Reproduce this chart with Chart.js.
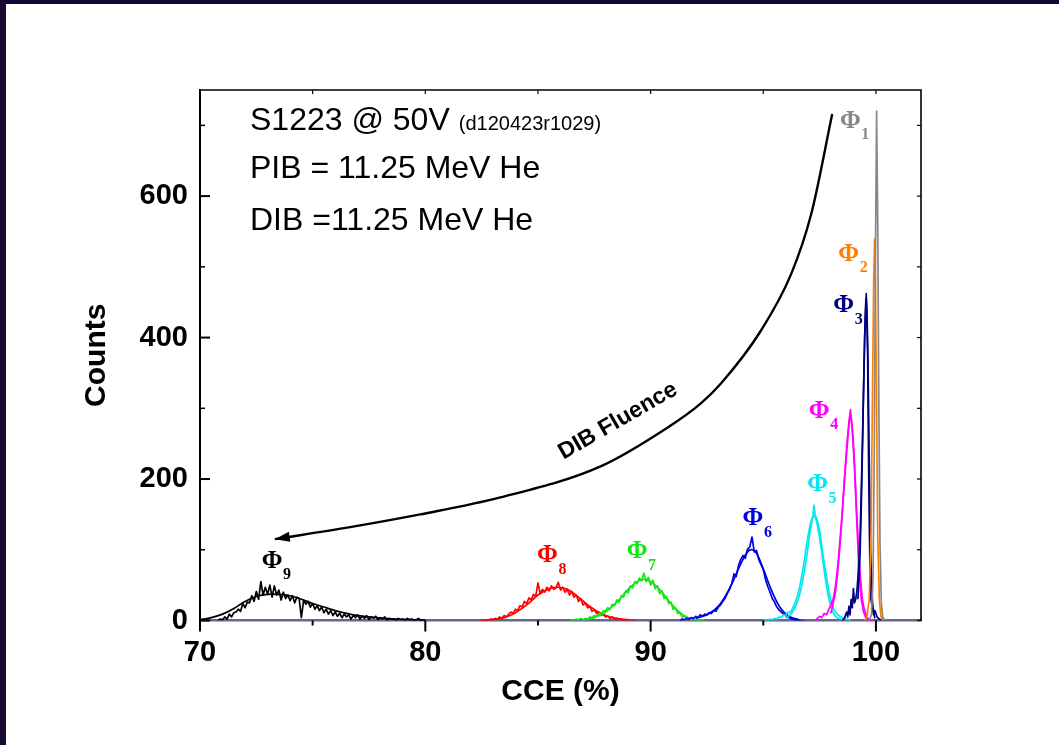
<!DOCTYPE html>
<html>
<head>
<meta charset="utf-8">
<script src="https://cdn.jsdelivr.net/npm/chart.js@4.4.1/dist/chart.umd.min.js"></script>
<style>
  html, body { margin: 0; padding: 0; background: #fff; }
  #wrap { position: relative; width: 1059px; height: 745px; overflow: hidden; }
  #edgeTop { position: absolute; left: 0; top: 0; width: 1059px; height: 4px; background: #0f0836; }
  #edgeLeft { position: absolute; left: 0; top: 0; width: 6px; height: 745px; background: #170a2e; }
</style>
</head>
<body>
<div id="wrap">
  <canvas id="cceChart" width="1059" height="745"></canvas>
  <div id="edgeTop"></div>
  <div id="edgeLeft"></div>
</div>
<script>
// axes
const xTickLabels = [70, 80, 90, 100];
const xMinorTicks = [75, 85, 95];
const yTickLabels = [0, 200, 400, 600];
const yMinorTicks = [100, 300, 500, 700];

// Phi 9 (black)
const phi9Cce = [70.8,70.9,71.0,71.1,71.2,71.3,71.4,71.5,71.6,71.7,71.8,71.9,72.0,72.1,72.2,72.3,72.4,72.5,72.6,72.7,
  72.8,72.9,73.0,73.1,73.2,73.3,73.4,73.5,73.6,73.7,73.8,73.9,74.0,74.1,74.2,74.3,74.4,74.5,74.6,74.7,
  74.8,74.9,75.0,75.1,75.2,75.3,75.4,75.5,75.6,75.7,75.8,75.9,76.0,76.1,76.2,76.3,76.4,76.5,76.6,76.7,
  76.8,76.9,77.0,77.1,77.2,77.3,77.4,77.5,77.6,77.7,77.8,77.9,78.0,78.1,78.2,78.3,78.4,78.5,78.6,78.7,
  78.8,78.9,79.0,79.1,79.2,79.3,79.4,79.5,79.6,79.7,79.8,80.0];
const phi9Counts = [0,2,1,5,2,9,5,11,12,16,13,24,18,26,25,35,27,41,30,55,
  36,47,37,50,33,49,36,43,29,40,31,36,28,35,25,33,31,4,29,23,
  27,19,24,16,21,14,19,11,16,9,14,7,12,6,10,4,9,5,8,2,
  7,4,8,2,6,3,7,1,5,3,6,1,4,2,5,0,3,2,2,0,
  3,1,2,0,3,1,2,0,1,3,0,0];
const phi9FitCce = [70.0,70.5,71.0,71.5,72.0,72.5,73.0,73.5,74.0,74.5,75.0,75.5,76.0,76.5,77.0,77.5,78.0,78.5,79.0,79.5,80.0];
const phi9Fit = [1,4,9,17,27,34,37,37,35,30,24,19,14,10,7,5,3.5,2.5,1.5,1,0.5];

// Phi 8 (red)
const phi8Cce = [82.6,82.7,82.8,82.9,83.0,83.1,83.2,83.3,83.4,83.5,83.6,83.7,83.8,83.9,84.0,84.1,84.2,84.3,84.4,84.5,
  84.6,84.7,84.8,84.9,85.0,85.1,85.2,85.3,85.4,85.5,85.6,85.7,85.8,85.9,86.0,86.1,86.2,86.3,86.4,86.5,
  86.6,86.7,86.8,86.9,87.0,87.1,87.2,87.3,87.4,87.5,87.6,87.7,87.8,87.9,88.0,88.1,88.2,88.3,88.4,88.5,
  88.6,88.7,88.8,88.9,89.0];
const phi8Counts = [0,1,0,2,1,3,2,5,3,7,5,9,12,10,16,14,21,19,27,24,
  32,29,37,34,53,38,44,40,47,42,49,44,46,54,43,47,40,44,36,41,
  33,36,27,31,22,25,18,20,13,15,10,12,7,9,5,6,3,5,2,3,
  1,2,0,1,0];
const phi8FitCce = [82.4,83.0,83.5,84.0,84.5,85.0,85.5,85.9,86.3,86.8,87.3,87.8,88.3,88.8,89.3];
const phi8Fit = [0,1.5,4,11,22,36,45,47,44,33,20,10,4,1.5,0.3];

// Phi 7 (green)
const phi7Cce = [86.4,86.5,86.6,86.7,86.8,86.9,87.0,87.1,87.2,87.3,87.4,87.5,87.6,87.7,87.8,87.9,88.0,88.1,88.2,88.3,
  88.4,88.5,88.6,88.7,88.8,88.9,89.0,89.1,89.2,89.3,89.4,89.5,89.6,89.7,89.8,89.9,90.0,90.1,90.2,90.3,
  90.4,90.5,90.6,90.7,90.8,90.9,91.0,91.1,91.2,91.3,91.4,91.5,91.6,91.7,91.8,91.9,92.0,92.2];
const phi7Counts = [0,1,0,2,1,3,1,3,2,5,4,7,6,10,9,14,13,18,16,23,
  21,29,26,35,33,42,39,49,46,55,52,60,56,67,55,61,50,57,45,49,
  38,42,31,34,24,26,16,18,10,11,5,6,2,3,1,2,0,0];
const phi7FitCce = [87.0,87.5,88.0,88.5,89.0,89.4,89.7,90.0,90.4,90.8,91.2,91.6,92.0,92.4];
const phi7Fit = [1,4,12,26,44,55,58,55,44,28,14,5,1.5,0.3];

// Phi 6 (blue)
const phi6Cce = [91.3,91.4,91.5,91.6,91.7,91.8,91.9,92.0,92.1,92.2,92.3,92.4,92.5,92.6,92.7,92.8,92.9,93.0,93.1,93.2,
  93.3,93.4,93.5,93.6,93.7,93.8,93.9,94.0,94.1,94.2,94.3,94.4,94.5,94.6,94.7,94.8,94.9,95.0,95.1,95.2,
  95.3,95.4,95.5,95.6,95.7,95.8,95.9,96.0,96.1,96.2,96.3,96.4,96.5,96.6,96.8];
const phi6Counts = [0,2,1,3,2,4,3,6,4,8,6,9,8,11,10,14,13,19,22,27,
  31,38,44,52,66,62,78,86,92,88,101,104,118,97,99,86,79,72,58,48,
  40,31,26,19,15,12,9,7,5,3,2,1,1,0,0];
const phi6FitCce = [92.0,92.5,93.0,93.5,94.0,94.3,94.5,94.7,95.0,95.4,95.8,96.2,96.6];
const phi6Fit = [3,8,20,45,80,97,100,95,73,40,16,5,1];

// Phi 5 (cyan)
const phi5Cce = [95.0,95.1,95.2,95.3,95.4,95.5,95.6,95.7,95.8,95.9,96.0,96.1,96.2,96.3,96.4,96.5,96.6,96.7,96.8,96.9,
  97.0,97.1,97.2,97.25,97.3,97.4,97.5,97.6,97.7,97.8,97.9,98.0,98.1,98.2,98.3,98.4,98.5,98.6,98.7,98.8,98.9];
const phi5Counts = [0,1,0,2,1,3,2,5,4,8,7,12,11,17,24,33,45,62,80,103,
  122,138,148,163,150,141,128,104,82,63,44,29,19,12,8,6,4,3,2,1,0];
const phi5FitCce = [96.0,96.3,96.6,96.9,97.1,97.25,97.4,97.6,97.8,98.0,98.2,98.5];
const phi5Fit = [3,12,35,85,130,148,135,95,50,20,6,1];

// Phi 4 (magenta)
const phi4Cce = [97.3,97.4,97.5,97.6,97.7,97.8,97.9,98.0,98.1,98.2,98.3,98.4,98.5,98.6,98.7,98.8,98.87,98.95,99.05,99.15,99.25,99.35,99.45,99.55,99.7,99.9];
const phi4Counts = [0,3,6,4,10,8,15,22,30,48,75,112,150,200,245,280,298,270,215,140,70,30,12,4,1,0];
const phi4FitCce = [98.0,98.2,98.4,98.6,98.8,98.87,99.0,99.2,99.4,99.6,99.8];
const phi4Fit = [10,40,105,195,275,290,250,120,30,5,0];

// Phi 3 (navy)
const phi3Cce = [98.5,98.6,98.7,98.75,98.8,98.85,98.9,98.95,99.0,99.05,99.1,99.15,99.2,99.3,99.4,99.5,99.57,99.63,99.68,99.73,99.78,99.85,99.9,99.95,100.0,100.05,100.15,100.25];
const phi3Counts = [0,3,12,5,20,8,30,18,45,25,30,40,60,120,250,400,462,380,200,80,30,15,8,14,10,5,2,0];
const phi3FitCce = [99.2,99.3,99.4,99.5,99.57,99.65,99.75,99.85,99.95];
const phi3Fit = [30,100,240,400,455,360,120,25,3];

// Phi 2 (orange)
const phi2Cce = [99.5,99.6,99.7,99.78,99.85,99.9,99.94,99.98,100.03,100.08,100.15,100.22,100.3];
const phi2Counts = [0,5,30,120,330,480,540,470,300,120,30,6,0];

// Phi 1 (grey)
const phi1Cce = [99.7,99.8,99.87,99.93,99.98,100.03,100.08,100.13,100.18,100.24,100.3,100.4];
const phi1Counts = [0,8,60,250,520,720,560,300,110,25,5,0];

// DIB fluence arrow
const arrowCce = [73.32, 76.66, 79.77, 83.33, 87.78, 90.76, 92.23, 93.12, 94.9, 96.24, 97.13, 98.06];
const arrowCounts = [115, 132, 150, 174, 218, 273, 307, 335, 410, 490, 575, 716];

// peak labels
const phiSubs = ['1', '2', '3', '4', '5', '6', '7', '8', '9'];
const phiColors = ['#888888', '#ff8000', '#000080', '#ff00ff', '#00e8f0', '#0000e6', '#14e614', '#ff0000', '#000000'];
const phiLabelCce = [98.86, 98.79, 98.57, 97.48, 97.41, 94.54, 89.4, 85.42, 73.2];
const phiLabelCounts = [706, 518, 445, 296, 192, 144, 97, 92, 84];

const infoLines = ['S1223 @ 50V', 'PIB = 11.25 MeV He', 'DIB =11.25 MeV He'];
const infoRun = '(d120423r1029)';

const SANS = '"Liberation Sans", Arial, sans-serif';
const SERIF = '"Liberation Serif", "Times New Roman", serif';

function pts(xs, ys) {
    return xs.map((x, i) => ({ x: x, y: ys[i] }));
}

function spectrum(xs, ys, color, order, smooth) {
    return { data: pts(xs, ys), borderColor: color, borderWidth: 1.7, pointRadius: 0,
        tension: smooth ? 0.4 : 0, order: order };
}

const datasets = [
    { data: pts(arrowCce, arrowCounts), borderColor: '#000', borderWidth: 2.4, pointRadius: 0,
      cubicInterpolationMode: 'monotone', order: 0 },
    spectrum(phi1Cce, phi1Counts, phiColors[0], 1),
    spectrum(phi2Cce, phi2Counts, phiColors[1], 2),
    spectrum(phi3Cce, phi3Counts, phiColors[2], 3),
    spectrum(phi3FitCce, phi3Fit, phiColors[2], 3, true),
    spectrum(phi4Cce, phi4Counts, phiColors[3], 4),
    spectrum(phi4FitCce, phi4Fit, phiColors[3], 4, true),
    spectrum(phi5Cce, phi5Counts, phiColors[4], 5),
    spectrum(phi5FitCce, phi5Fit, phiColors[4], 5, true),
    spectrum(phi6Cce, phi6Counts, phiColors[5], 6),
    spectrum(phi6FitCce, phi6Fit, phiColors[5], 6, true),
    spectrum(phi7Cce, phi7Counts, phiColors[6], 7),
    spectrum(phi7FitCce, phi7Fit, phiColors[6], 7, true),
    spectrum(phi8Cce, phi8Counts, phiColors[7], 8),
    spectrum(phi8FitCce, phi8Fit, phiColors[7], 8, true),
    spectrum(phi9Cce, phi9Counts, phiColors[8], 9),
    spectrum(phi9FitCce, phi9Fit, phiColors[8], 9, true)
];

// frame, ticks, arrow head and text labels
const decorPlugin = {
    id: 'decor',
    afterDatasetsDraw(chart) {
        const { ctx, chartArea: a, scales: { x, y } } = chart;
        ctx.save();

        ctx.strokeStyle = '#000';
        ctx.lineWidth = 1.6;
        ctx.beginPath();
        ctx.moveTo(a.left, a.top);
        ctx.lineTo(a.right, a.top);
        ctx.lineTo(a.right, a.bottom);
        ctx.stroke();

        const tick = (x1, y1, x2, y2, w) => {
            ctx.lineWidth = w;
            ctx.beginPath(); ctx.moveTo(x1, y1); ctx.lineTo(x2, y2); ctx.stroke();
        };
        xTickLabels.forEach(v => { const px = x.getPixelForValue(v); tick(px, a.bottom, px, a.bottom + 11, 2); });
        xMinorTicks.forEach(v => { const px = x.getPixelForValue(v); tick(px, a.bottom, px, a.bottom + 5, 2); });
        xTickLabels.concat(xMinorTicks).forEach(v => { const px = x.getPixelForValue(v); tick(px, a.top, px, a.top + 4, 1.2); });
        yTickLabels.forEach(v => { const py = y.getPixelForValue(v); tick(a.left, py, a.left + 10, py, 2); });
        yMinorTicks.forEach(v => { const py = y.getPixelForValue(v); tick(a.left, py, a.left + 5, py, 1.5); });
        yTickLabels.concat(yMinorTicks).forEach(v => { const py = y.getPixelForValue(v); tick(a.right, py, a.right - 4, py, 1.2); });

        // arrow head at the low-CCE end of the fluence curve
        const p0 = { x: x.getPixelForValue(arrowCce[0]), y: y.getPixelForValue(arrowCounts[0]) };
        const p1 = { x: x.getPixelForValue(arrowCce[1]), y: y.getPixelForValue(arrowCounts[1]) };
        const ang = Math.atan2(p0.y - p1.y, p0.x - p1.x);
        const len = 15, half = 5;
        ctx.fillStyle = '#000';
        ctx.beginPath();
        ctx.moveTo(p0.x, p0.y);
        ctx.lineTo(p0.x - len * Math.cos(ang) + half * Math.sin(ang), p0.y - len * Math.sin(ang) - half * Math.cos(ang));
        ctx.lineTo(p0.x - len * Math.cos(ang) - half * Math.sin(ang), p0.y - len * Math.sin(ang) + half * Math.cos(ang));
        ctx.closePath();
        ctx.fill();

        // DIB Fluence
        ctx.save();
        ctx.translate(618, 421);
        ctx.rotate(-30 * Math.PI / 180);
        ctx.font = 'bold 23px ' + SANS;
        ctx.textAlign = 'center';
        ctx.textBaseline = 'middle';
        ctx.fillText('DIB Fluence', 0, 0);
        ctx.restore();

        // peak labels
        phiSubs.forEach((s, i) => {
            const px = x.getPixelForValue(phiLabelCce[i]);
            const py = y.getPixelForValue(phiLabelCounts[i]);
            ctx.fillStyle = phiColors[i];
            ctx.font = 'bold 25px ' + SERIF;
            ctx.textAlign = 'center';
            ctx.textBaseline = 'middle';
            ctx.fillText('\u03A6', px, py);
            ctx.font = 'bold 16px ' + SERIF;
            ctx.textAlign = 'left';
            ctx.fillText(s, px + 11, py + 14);
        });

        // run info
        ctx.fillStyle = '#000';
        ctx.textAlign = 'left';
        ctx.textBaseline = 'alphabetic';
        ctx.font = '32px ' + SANS;
        const tx = a.left + 50;
        const baselines = [a.top + 40, a.top + 88, a.top + 140];
        infoLines.forEach((t, i) => ctx.fillText(t, tx, baselines[i]));
        const w0 = ctx.measureText(infoLines[0]).width;
        ctx.font = '20px ' + SANS;
        ctx.fillText(infoRun, tx + w0 + 9, baselines[0]);

        ctx.restore();
    }
};

new Chart(document.getElementById('cceChart'), {
    type: 'line',
    data: { datasets: datasets },
    plugins: [decorPlugin],
    options: {
        responsive: false,
        animation: false,
        devicePixelRatio: 1,
        layout: { padding: { top: 90, right: 138, left: 0, bottom: 0 } },
        plugins: { legend: { display: false }, tooltip: { enabled: false } },
        elements: { line: { borderJoinStyle: 'round' } },
        scales: {
            x: {
                type: 'linear',
                min: 70,
                max: 102,
                afterFit: s => { s.height = 124.5; },
                afterBuildTicks: s => { s.ticks = xTickLabels.map(v => ({ value: v })); },
                grid: { display: true, drawOnChartArea: false, drawTicks: false },
                border: { display: true, color: '#66668f', width: 2.5 },
                ticks: { color: '#000', padding: 15, font: { family: SANS, size: 29, weight: 'bold' } },
                title: { display: true, text: 'CCE (%)', color: '#000', padding: { top: 0, bottom: 35 },
                    font: { family: SANS, size: 30, weight: 'bold' } }
            },
            y: {
                min: 0,
                max: 750,
                afterFit: s => { s.width = 200; },
                afterBuildTicks: s => { s.ticks = yTickLabels.map(v => ({ value: v })); },
                grid: { display: true, drawOnChartArea: false, drawTicks: false },
                border: { display: true, color: '#000', width: 2 },
                ticks: { color: '#000', padding: 12, font: { family: SANS, size: 29, weight: 'bold' } },
                title: { display: true, text: 'Counts', color: '#000', padding: { top: 79, bottom: 0 },
                    font: { family: SANS, size: 30, weight: 'bold' } }
            }
        }
    }
});
</script>
</body>
</html>
